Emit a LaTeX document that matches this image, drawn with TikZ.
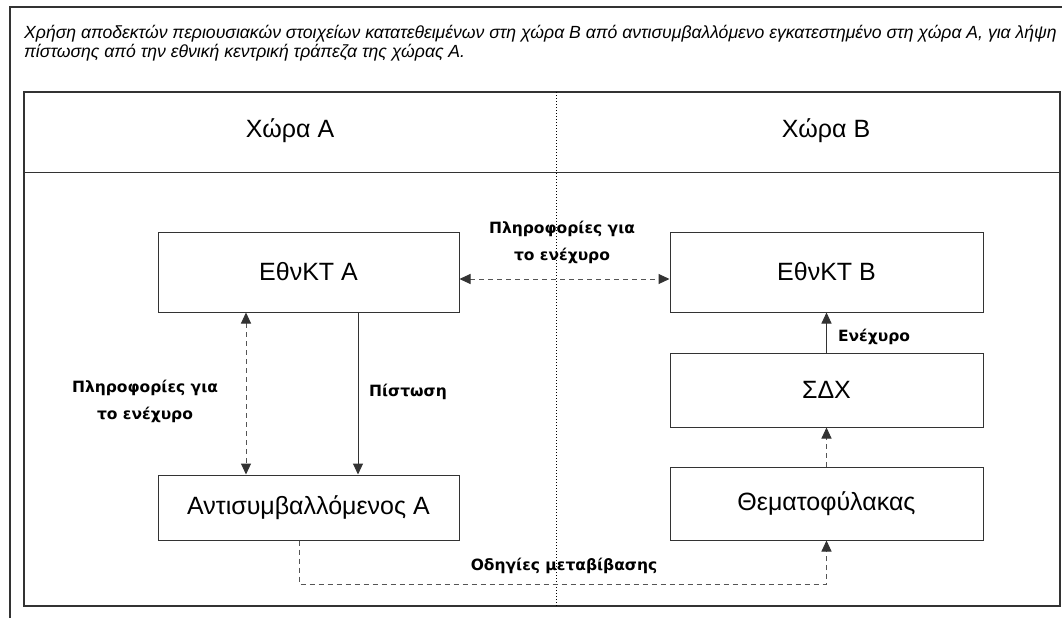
\documentclass[tikz,border=0pt]{standalone}
\usepackage{fontspec}
\setmainfont{Liberation Sans}
\newfontfamily\lblfont{DejaVu Sans}
\usetikzlibrary{arrows.meta}
\definecolor{linec}{HTML}{333333}
\definecolor{dashc}{HTML}{555555}
\tikzset{
  box/.style={draw=linec, line width=1pt, minimum width=301pt, font=\fontsize{25}{28}\selectfont, inner sep=0pt},
  lbl/.style={font=\lblfont\bfseries\fontsize{15.5}{27}\selectfont, align=center, inner sep=0pt},
  arrtip/.tip={Triangle[length=11pt,width=10pt,color=linec]},
  tip/.style={-arrtip},
  dtip/.style={arrtip-arrtip},
  solidarr/.style={draw=linec, line width=1pt},
  dasharr/.style={draw=dashc, line width=1pt, dash pattern=on 5pt off 4pt},
}
\begin{document}
\begin{tikzpicture}[x=1pt,y=-1pt]
\useasboundingbox (0,0) rectangle (1062,618);
% outer frame
\draw[linec, line width=1.2pt] (10,618) -- (10,7) -- (1062,7);
% title
\node[anchor=base west, inner sep=0pt, font=\itshape\fontsize{17.6}{20}\selectfont] (t1) at (24,38) {Χρήση αποδεκτών περιουσιακών στοιχείων κατατεθειμένων στη χώρα Β από αντισυμβαλλόμενο εγκατεστημένο στη χώρα Α, για λήψη};
\node[anchor=base west, inner sep=0pt, font=\itshape\fontsize{17.6}{20}\selectfont] (t2) at (24,58) {πίστωσης από την εθνική κεντρική τράπεζα της χώρας Α.};
% inner frame
\draw[linec, line width=1.2pt] (24,92) rectangle (1060,606);
\draw[linec, line width=1pt] (24,172) -- (1060,172);
\draw[black, line width=0.8pt, dash pattern=on 1pt off 2pt] (556,92) -- (556,606);
% headers
\node[font=\fontsize{25}{28}\selectfont] (hA) at (290,131) {Χώρα Α};
\node[font=\fontsize{25}{28}\selectfont] (hB) at (826,131) {Χώρα Β};
% boxes
\node[box, minimum height=80pt] (ncbA) at (308.5,272) {ΕθνΚΤ Α};
\node[box, minimum height=80pt, minimum width=313pt] (ncbB) at (826.5,272) {ΕθνΚΤ Β};
\node[box, minimum height=74pt, minimum width=313pt] (sdx) at (826.5,390) {ΣΔΧ};
\node[box, minimum height=73pt, minimum width=313pt] (cust) at (826.5,503.5) {Θεματοφύλακας};
\node[box, minimum height=65pt] (cpA) at (308.5,507.5) {Αντισυμβαλλόμενος Α};
% connectors
\draw[dasharr, dtip] ([yshift=-7pt]ncbA.east) -- ([yshift=-7pt]ncbB.west);
\draw[dasharr, dtip] ([xshift=-62.5pt]ncbA.south) -- ([xshift=-62.5pt]cpA.north);
\draw[solidarr, tip] ([xshift=49.5pt]ncbA.south) -- ([xshift=49.5pt]cpA.north);
\draw[solidarr, tip] (sdx.north) -- (ncbB.south);
\draw[dasharr, tip] (cust.north) -- (sdx.south);
\coordinate (c1) at (299,584);
\coordinate (c2) at (826.5,584);
\draw[dasharr, tip] ([xshift=-9.5pt]cpA.south) -- (c1) -- (c2) -- (cust.south);
% labels
\node[lbl] (l1) at (562,242) {Πληροφορίες για\\το ενέχυρο};
\node[lbl] (l2) at (145,401) {Πληροφορίες για\\το ενέχυρο};
\node[lbl] (l3) at (408,392) {Πίστωση};
\node[lbl] (l4) at (874,337) {Ενέχυρο};
\node[lbl] (l5) at (564,566) {Οδηγίες μεταβίβασης};
\end{tikzpicture}
\end{document}
